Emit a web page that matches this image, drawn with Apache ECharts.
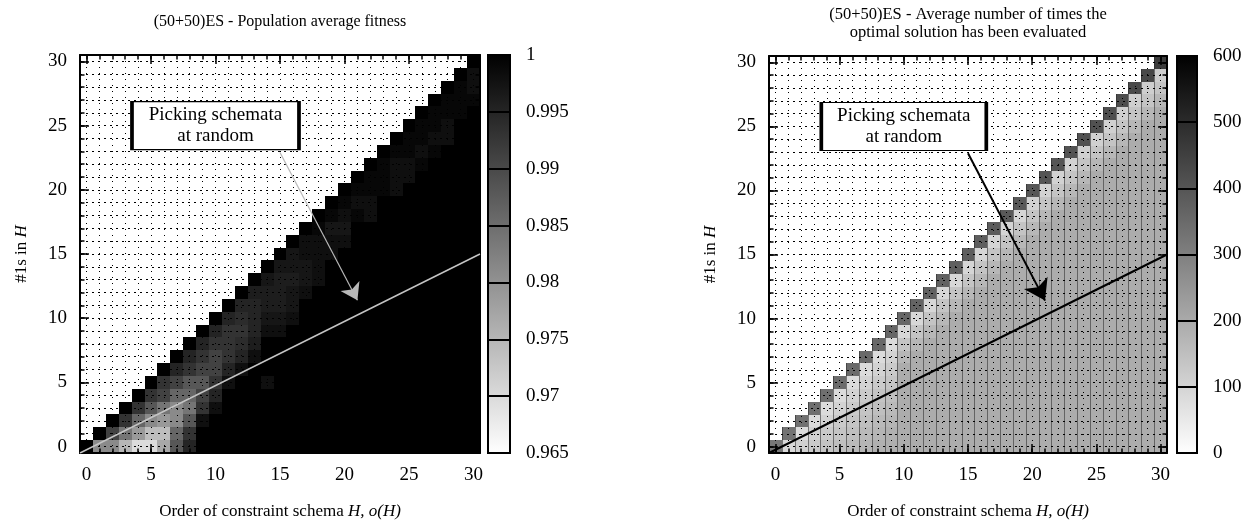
<!DOCTYPE html>
<html>
<head>
<meta charset="utf-8">
<script src="https://cdn.jsdelivr.net/npm/echarts@6/dist/echarts.min.js"></script>
<style>
  html, body { margin: 0; padding: 0; background: #fff; }
  #chart { width: 1256px; height: 529px; }
</style>
</head>
<body>
<div id="chart"></div>
<script>
// Order of the constraint schema (x) and number of 1s in it (y): 0..30
const orders = [0, 1, 2, 3, 4, 5, 6, 7, 8, 9, 10, 11, 12, 13, 14, 15, 16, 17, 18, 19, 20,
                21, 22, 23, 24, 25, 26, 27, 28, 29, 30];
const majorTicks = [0, 5, 10, 15, 20, 25, 30];
const fitnessTicks = [0.965, 0.97, 0.975, 0.98, 0.985, 0.99, 0.995, 1];
const evalTicks = [0, 100, 200, 300, 400, 500, 600];

// Population average fitness; one list per order o(H), indexed by #1s (0..o(H))
const fitnessByOrder = [
  [1],
  [0.981, 1],
  [0.981, 0.991, 1],
  [0.975, 0.984, 0.993, 1],
  [0.970, 0.979, 0.986, 0.993, 1],
  [0.970, 0.974, 0.981, 0.988, 0.993, 1],
  [0.977, 0.974, 0.979, 0.984, 0.991, 0.993, 1],
  [0.988, 0.986, 0.981, 0.981, 0.986, 0.991, 0.995, 1],
  [0.995, 0.993, 0.988, 0.984, 0.986, 0.988, 0.993, 0.995, 1],
  [1, 1, 0.998, 0.993, 0.991, 0.988, 0.991, 0.993, 0.995, 1],
  [1, 1, 1, 0.998, 0.995, 0.993, 0.991, 0.991, 0.993, 0.995, 1],
  [1, 1, 1, 1, 1, 0.998, 0.995, 0.993, 0.993, 0.993, 0.995, 1],
  [1, 1, 1, 1, 1, 1, 0.998, 0.995, 0.994, 0.993, 0.994, 0.995, 1],
  [1, 1, 1, 1, 1, 1, 1, 0.998, 0.996, 0.995, 0.995, 0.995, 0.996, 1],
  [1, 1, 1, 1, 1, 0.998, 1, 1, 1, 0.998, 0.997, 0.996, 0.996, 0.997, 1],
  [1, 1, 1, 1, 1, 1, 1, 1, 1, 0.998, 0.997, 0.996, 0.996, 0.996, 0.997, 1],
  [1, 1, 1, 1, 1, 1, 1, 1, 1, 1, 0.998, 0.997, 0.997, 0.996, 0.997, 0.997, 1],
  [1, 1, 1, 1, 1, 1, 1, 1, 1, 1, 1, 1, 0.998, 0.997, 0.997, 0.998, 0.998, 1],
  [1, 1, 1, 1, 1, 1, 1, 1, 1, 1, 1, 1, 1, 0.998, 0.998, 0.998, 0.998, 0.999, 1],
  [1, 1, 1, 1, 1, 1, 1, 1, 1, 1, 1, 1, 1, 1, 1, 0.998, 0.998, 0.997, 0.999, 1],
  [1, 1, 1, 1, 1, 1, 1, 1, 1, 1, 1, 1, 1, 1, 1, 1, 0.998, 0.997, 0.998, 0.999, 1],
  [1, 1, 1, 1, 1, 1, 1, 1, 1, 1, 1, 1, 1, 1, 1, 1, 1, 1, 0.999, 0.998, 0.999, 1],
  [1, 1, 1, 1, 1, 1, 1, 1, 1, 1, 1, 1, 1, 1, 1, 1, 1, 1, 0.998, 0.998, 0.999, 0.999, 1],
  [1, 1, 1, 1, 1, 1, 1, 1, 1, 1, 1, 1, 1, 1, 1, 1, 1, 1, 1, 1, 0.999, 0.999, 0.999, 1],
  [1, 1, 1, 1, 1, 1, 1, 1, 1, 1, 1, 1, 1, 1, 1, 1, 1, 1, 1, 1, 0.998, 0.998, 0.998, 0.999, 1],
  [1, 1, 1, 1, 1, 1, 1, 1, 1, 1, 1, 1, 1, 1, 1, 1, 1, 1, 1, 1, 1, 0.998, 0.998, 0.999, 0.999, 1],
  [1, 1, 1, 1, 1, 1, 1, 1, 1, 1, 1, 1, 1, 1, 1, 1, 1, 1, 1, 1, 1, 1, 0.999, 0.998, 0.999, 0.999, 1],
  [1, 1, 1, 1, 1, 1, 1, 1, 1, 1, 1, 1, 1, 1, 1, 1, 1, 1, 1, 1, 1, 1, 1, 0.999, 0.998, 0.999, 0.999, 1],
  [1, 1, 1, 1, 1, 1, 1, 1, 1, 1, 1, 1, 1, 1, 1, 1, 1, 1, 1, 1, 1, 1, 1, 1, 0.998, 0.998, 0.999, 0.999, 1],
  [1, 1, 1, 1, 1, 1, 1, 1, 1, 1, 1, 1, 1, 1, 1, 1, 1, 1, 1, 1, 1, 1, 1, 1, 1, 1, 0.999, 0.999, 0.999, 1],
  [1, 1, 1, 1, 1, 1, 1, 1, 1, 1, 1, 1, 1, 1, 1, 1, 1, 1, 1, 1, 1, 1, 1, 1, 1, 1, 1, 0.999, 0.998, 0.998, 1]
];

// Average number of evaluations of the optimal solution; same layout
const evaluationsByOrder = [
  [320],
  [90, 330],
  [110, 85, 335],
  [125, 110, 85, 340],
  [140, 125, 105, 85, 340],
  [150, 140, 125, 105, 85, 345],
  [165, 150, 140, 125, 105, 85, 350],
  [175, 165, 150, 140, 125, 105, 85, 350],
  [185, 175, 165, 150, 140, 125, 105, 85, 355],
  [190, 185, 175, 165, 150, 140, 125, 105, 85, 360],
  [195, 195, 195, 195, 195, 195, 195, 170, 140, 95, 360],
  [195, 195, 195, 195, 195, 195, 195, 195, 170, 140, 95, 365],
  [195, 195, 195, 195, 195, 195, 195, 195, 195, 170, 140, 95, 370],
  [195, 195, 195, 195, 195, 195, 195, 195, 195, 195, 170, 140, 95, 370],
  [195, 195, 195, 195, 195, 195, 195, 195, 195, 195, 195, 170, 140, 95, 375],
  [195, 195, 195, 195, 195, 195, 195, 195, 195, 195, 195, 195, 170, 140, 100, 380],
  [195, 195, 195, 195, 195, 195, 195, 195, 195, 195, 195, 195, 195, 170, 140, 100, 380],
  [195, 195, 195, 195, 195, 195, 195, 195, 195, 195, 195, 195, 195, 195, 170, 140, 100, 385],
  [195, 195, 195, 195, 195, 195, 195, 195, 195, 195, 195, 195, 195, 195, 195, 170, 140, 100, 390],
  [195, 195, 195, 195, 195, 195, 195, 195, 195, 195, 195, 195, 195, 195, 195, 195, 170, 140, 100, 390],
  [195, 195, 195, 195, 195, 195, 195, 195, 195, 195, 195, 195, 195, 195, 195, 195, 195, 170, 140, 105, 395],
  [195, 195, 195, 195, 195, 195, 195, 195, 195, 195, 195, 195, 195, 195, 195, 195, 195, 195, 170, 140, 105, 400],
  [195, 195, 195, 195, 195, 195, 195, 195, 195, 195, 195, 195, 195, 195, 195, 195, 195, 195, 195, 170, 140, 105, 400],
  [195, 195, 195, 195, 195, 195, 195, 195, 195, 195, 195, 195, 195, 195, 195, 195, 195, 195, 195, 195, 170, 140, 105, 405],
  [195, 195, 195, 195, 195, 195, 195, 195, 195, 195, 195, 195, 195, 195, 195, 195, 195, 195, 195, 195, 195, 170, 140, 110, 410],
  [195, 195, 195, 195, 195, 195, 195, 195, 195, 195, 195, 195, 195, 195, 195, 195, 195, 195, 195, 195, 195, 195, 170, 140, 110, 410],
  [195, 195, 195, 195, 195, 195, 195, 195, 195, 195, 195, 195, 195, 195, 195, 195, 195, 195, 195, 195, 195, 195, 195, 170, 140, 110, 415],
  [195, 195, 195, 195, 195, 195, 195, 195, 195, 195, 195, 195, 195, 195, 195, 195, 195, 195, 195, 195, 195, 195, 195, 195, 170, 140, 110, 420],
  [195, 195, 195, 195, 195, 195, 195, 195, 195, 195, 195, 195, 195, 195, 195, 195, 195, 195, 195, 195, 195, 195, 195, 195, 195, 170, 140, 115, 425],
  [195, 195, 195, 195, 195, 195, 195, 195, 195, 195, 195, 195, 195, 195, 195, 195, 195, 195, 195, 195, 195, 195, 195, 195, 195, 195, 170, 140, 115, 430],
  [195, 195, 195, 195, 195, 195, 195, 195, 195, 195, 195, 195, 195, 195, 195, 195, 195, 195, 195, 195, 195, 195, 195, 195, 195, 195, 195, 170, 140, 115, 460]
];

// Reference line y = x/2 across the plot, the annotation arrow and the note position
const halfLine = [[-0.5, -0.5], [30.5, 15]];
const arrowFrom = [15, 22.9];
const arrowTo = [21, 11.4];
const noteAt = [10, 25];
const noteText = 'Picking schemata\nat random';

const FONT = 'Liberation Serif';
const PALETTE = ['#ffffff', '#000000'];
const AX_MIN = -0.5, AX_MAX = 30.5;

function toCells(columns) {
  const out = [];
  columns.forEach((col, xi) => col.forEach((v, yi) => out.push([orders[xi], orders[yi], v])));
  return out;
}

function cellRenderer(withSeam) {
  return function (params, api) {
    const x = api.value(0), y = api.value(1);
    const p0 = api.coord([x - 0.5, y + 0.5]);
    const p1 = api.coord([x + 0.5, y - 0.5]);
    const x0 = Math.round(p0[0]), y0 = Math.round(p0[1]);
    const x1 = Math.round(p1[0]), y1 = Math.round(p1[1]);
    const children = [{
      type: 'rect',
      shape: { x: x0, y: y0, width: x1 - x0, height: y1 - y0 },
      style: { fill: api.visual('color') }
    }];
    if (withSeam) {
      children.push({
        type: 'line',
        shape: { x1: x0 + 0.5, y1: y0, x2: x0 + 0.5, y2: y1 },
        style: { stroke: 'rgba(40,40,40,0.55)', lineWidth: 1 }
      });
    }
    return { type: 'group', children };
  };
}

function colorBarRenderer(params, api) {
  const a = api.coord([api.value(0), api.value(1)]);
  const b = api.coord([api.value(2), api.value(3)]);
  return {
    type: 'rect',
    shape: { x: a[0], y: b[1], width: b[0] - a[0], height: a[1] - b[1] },
    style: {
      fill: new echarts.graphic.LinearGradient(0, 0, 0, 1, [
        { offset: 0, color: PALETTE[1] }, { offset: 1, color: PALETTE[0] }
      ]),
      stroke: '#000', lineWidth: 2
    }
  };
}

const labelStyle = { color: '#000', fontFamily: FONT, fontSize: 19 };
const nameStyle = {
  color: '#000', fontFamily: FONT, fontSize: 17,
  rich: { i: { fontFamily: FONT, fontSize: 17, fontStyle: 'italic', color: '#000' } }
};

function majorAxis(grid, position, showLabels, extra) {
  return Object.assign({
    type: 'value', gridIndex: grid, position, min: AX_MIN, max: AX_MAX, z: 4,
    axisLine: { show: true, onZero: false, lineStyle: { color: '#000', width: 2 } },
    axisTick: { show: true, inside: true, length: 9, customValues: majorTicks,
                lineStyle: { color: '#000', width: 1.5 } },
    axisLabel: Object.assign({ show: showLabels, customValues: majorTicks, margin: 13 }, labelStyle),
    splitLine: { show: false }
  }, extra || {});
}

function minorAxis(grid, position, gridLines, dash) {
  return {
    type: 'value', gridIndex: grid, position, min: AX_MIN, max: AX_MAX, z: 3,
    axisLine: { show: false, onZero: false },
    axisTick: { show: true, inside: true, length: 4.5, customValues: orders,
                lineStyle: { color: '#000', width: 1.5 } },
    axisLabel: { show: false },
    splitLine: { show: gridLines, lineStyle: { color: '#000', width: 1, type: dash } }
  };
}

function barAxis(grid, ticks) {
  return {
    type: 'value', gridIndex: grid, position: 'right', z: 4,
    min: ticks[0], max: ticks[ticks.length - 1], interval: ticks[1] - ticks[0],
    axisLine: { show: false },
    axisTick: { show: false },
    axisLabel: Object.assign({ margin: 16 }, labelStyle),
    splitLine: { show: true, lineStyle: { color: '#000', width: 2 } }
  };
}

const xName = 'Order of constraint schema {i|H, o(H)}';
const yName = '#1s in {i|H}';

const panels = [
  { plot: { left: 80, top: 55, width: 400, height: 398 },
    bar: { left: 488, top: 55, width: 22, height: 398 } },
  { plot: { left: 769, top: 56, width: 398, height: 397 },
    bar: { left: 1177, top: 56, width: 20, height: 397 } }
];

const option = {
  animation: false,
  backgroundColor: '#fff',
  grid: [
    panels[0].plot, panels[0].plot, panels[0].bar,
    panels[1].plot, panels[1].plot, panels[1].bar
  ].map(g => Object.assign({ containLabel: false }, g)),
  xAxis: [
    majorAxis(0, 'bottom', true, { name: xName, nameLocation: 'middle', nameGap: 50, nameTextStyle: nameStyle }),
    majorAxis(0, 'top', false),
    minorAxis(1, 'bottom', true, [1, 5]),
    minorAxis(1, 'top', false, 'solid'),
    { type: 'value', gridIndex: 2, min: 0, max: 1, show: false },
    majorAxis(3, 'bottom', true, { name: xName, nameLocation: 'middle', nameGap: 50, nameTextStyle: nameStyle }),
    majorAxis(3, 'top', false),
    minorAxis(4, 'bottom', true, [1, 5]),
    minorAxis(4, 'top', false, 'solid'),
    { type: 'value', gridIndex: 5, min: 0, max: 1, show: false }
  ],
  yAxis: [
    majorAxis(0, 'left', true, { name: yName, nameLocation: 'middle', nameGap: 50, nameRotate: 90, nameTextStyle: nameStyle }),
    majorAxis(0, 'right', false),
    minorAxis(1, 'left', true, [2, 4]),
    minorAxis(1, 'right', false, 'solid'),
    barAxis(2, fitnessTicks),
    majorAxis(3, 'left', true, { name: yName, nameLocation: 'middle', nameGap: 50, nameRotate: 90, nameTextStyle: nameStyle }),
    majorAxis(3, 'right', false),
    minorAxis(4, 'left', true, [2, 4]),
    minorAxis(4, 'right', false, 'solid'),
    barAxis(5, evalTicks)
  ],
  visualMap: [
    { type: 'continuous', show: false, seriesIndex: 0, dimension: 2,
      min: fitnessTicks[0], max: fitnessTicks[fitnessTicks.length - 1], inRange: { color: PALETTE } },
    { type: 'continuous', show: false, seriesIndex: 3, dimension: 2,
      min: evalTicks[0], max: evalTicks[evalTicks.length - 1], inRange: { color: PALETTE } }
  ],
  series: [
    { type: 'custom', name: 'fitness', xAxisIndex: 0, yAxisIndex: 0, z: 2,
      renderItem: cellRenderer(false), data: toCells(fitnessByOrder) },
    { type: 'line', xAxisIndex: 0, yAxisIndex: 0, z: 5, data: halfLine, symbol: 'none', silent: true,
      lineStyle: { color: '#c4c4c4', width: 1.5 },
      markLine: {
        silent: true, symbol: ['none', 'arrow'], symbolSize: 16,
        lineStyle: { color: '#b8b8b8', width: 1.2, type: 'solid' },
        itemStyle: { color: '#b8b8b8' },
        label: { show: false },
        data: [[{ coord: arrowFrom }, { coord: arrowTo }]]
      },
      markPoint: {
        silent: true, symbol: 'rect', symbolSize: [167, 48],
        itemStyle: { color: '#fff', borderColor: '#000', borderWidth: 2 },
        label: { show: true, position: 'inside', formatter: noteText, color: '#000',
                 fontFamily: FONT, fontSize: 19, lineHeight: 21 },
        data: [{ coord: noteAt }]
      }
    },
    { type: 'custom', xAxisIndex: 4, yAxisIndex: 4, z: 2, silent: true,
      renderItem: colorBarRenderer,
      data: [[0, fitnessTicks[0], 1, fitnessTicks[fitnessTicks.length - 1]]] },
    { type: 'custom', name: 'evaluations', xAxisIndex: 5, yAxisIndex: 5, z: 2,
      renderItem: cellRenderer(true), data: toCells(evaluationsByOrder) },
    { type: 'line', xAxisIndex: 5, yAxisIndex: 5, z: 5, data: halfLine, symbol: 'none', silent: true,
      lineStyle: { color: '#000', width: 2 },
      markLine: {
        silent: true, symbol: ['none', 'arrow'], symbolSize: 20,
        lineStyle: { color: '#000', width: 2, type: 'solid' },
        itemStyle: { color: '#000' },
        label: { show: false },
        data: [[{ coord: arrowFrom }, { coord: arrowTo }]]
      },
      markPoint: {
        silent: true, symbol: 'rect', symbolSize: [165, 48],
        itemStyle: { color: '#fff', borderColor: '#000', borderWidth: 2 },
        label: { show: true, position: 'inside', formatter: noteText, color: '#000',
                 fontFamily: FONT, fontSize: 19, lineHeight: 21 },
        data: [{ coord: noteAt }]
      }
    },
    { type: 'custom', xAxisIndex: 9, yAxisIndex: 9, z: 2, silent: true,
      renderItem: colorBarRenderer,
      data: [[0, evalTicks[0], 1, evalTicks[evalTicks.length - 1]]] }
  ],
  graphic: [
    { type: 'text', silent: true,
      style: { text: '(50+50)ES - Population average fitness', x: 280, y: 22,
               textAlign: 'center', textVerticalAlign: 'middle',
               font: '16px "Liberation Serif"', fill: '#000' } },
    { type: 'text', silent: true,
      style: { text: '(50+50)ES - Average number of times the\noptimal solution has been evaluated',
               x: 968, y: 24, textAlign: 'center', textVerticalAlign: 'middle', lineHeight: 18,
               font: '16.5px "Liberation Serif"', fill: '#000' } }
  ]
};

const chart = echarts.init(document.getElementById('chart'), null, { renderer: 'canvas' });
chart.setOption(option);
</script>
</body>
</html>
